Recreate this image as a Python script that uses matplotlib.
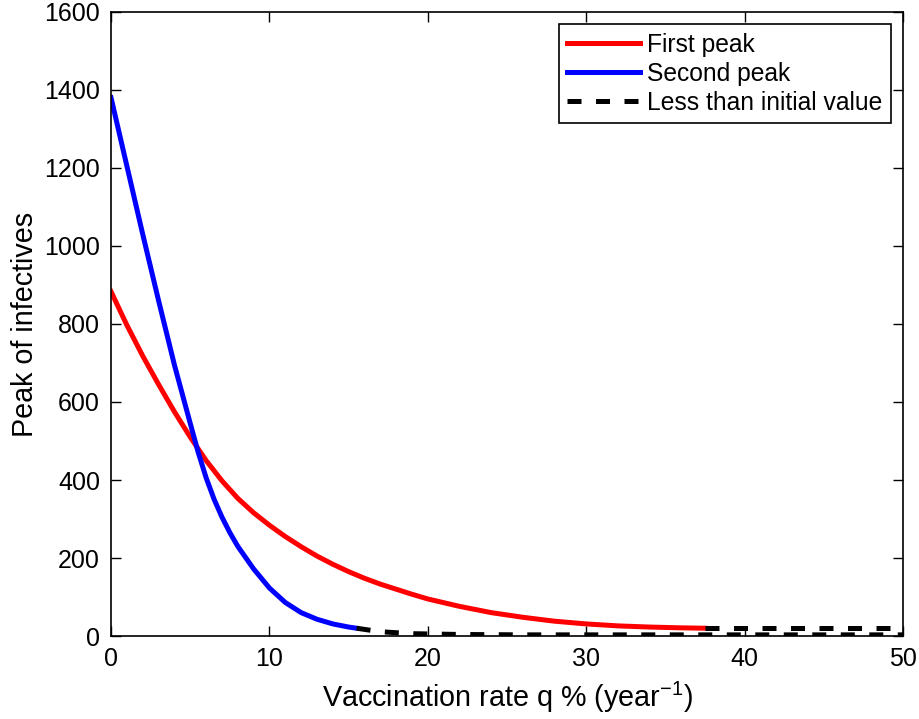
import matplotlib
matplotlib.use('Agg')
import matplotlib.pyplot as plt

# 数据
q_first = [0, 1, 2, 3, 4, 5, 6, 7, 8, 9, 10, 11, 12, 13, 14, 15, 16, 17, 18, 19,
           20, 22, 24, 26, 28, 30, 32, 34, 36, 37.5]
first_peak = [883, 797, 718, 645, 575, 510, 450, 398, 353, 316, 284, 255, 229, 205, 184, 165, 148, 133, 120, 107,
              95, 76, 60, 48, 38, 31, 26, 23, 21, 20]

q_second = [0, 1, 2, 3, 4, 5, 5.5, 6, 6.5, 7, 7.5, 8, 9, 10, 11, 12, 13, 14, 15, 15.5]
second_peak = [1380, 1205, 1030, 860, 695, 545, 471, 406, 351, 305, 265, 230, 172, 123, 86, 60, 43, 31, 23, 20]

q_low = [15.5, 17, 19, 22, 26, 50]
low_value = [20, 11, 6, 4, 3, 3]

q_high = [37.5, 50]
high_value = [20, 20]

plt.rcParams['font.family'] = ['Liberation Sans', 'DejaVu Sans']
plt.rcParams['mathtext.default'] = 'regular'

fig = plt.figure(figsize=(9.2, 7.19), dpi=100)
ax = fig.add_axes([0.1207, 0.1154, 0.861, 0.868])

dash = (0, (2.8, 2.9))
ax.plot(q_first, first_peak, color='#ff0000', lw=3.6, label='First peak')
ax.plot(q_second, second_peak, color='#0000ff', lw=3.6, label='Second peak')
ax.plot(q_low, low_value, color='black', lw=3.6, ls=dash, label='Less than initial value')
ax.plot(q_high, high_value, color='black', lw=3.6, ls=dash)

ax.set_xlim(0, 50)
ax.set_ylim(0, 1600)
ax.set_xticks([0, 10, 20, 30, 40, 50])
ax.set_yticks(range(0, 1601, 200))
ax.tick_params(direction='in', top=True, right=True, length=7, width=1, labelsize=18, pad=8)
for s in ax.spines.values():
    s.set_linewidth(1.2)

ax.set_xlabel('Vaccination rate q % (year$^{-1}$)', fontsize=20.7, labelpad=6)
ax.set_ylabel('Peak of infectives', fontsize=20.7, labelpad=4)

leg = ax.legend(loc='upper right', fontsize=17.7, handlelength=2.95, fancybox=False,
                edgecolor='black', framealpha=1, borderaxespad=0.5,
                labelspacing=0.2, borderpad=0.35, handletextpad=0.3)
leg.get_frame().set_linewidth(1.2)

fig.savefig('out.png', dpi=100)
